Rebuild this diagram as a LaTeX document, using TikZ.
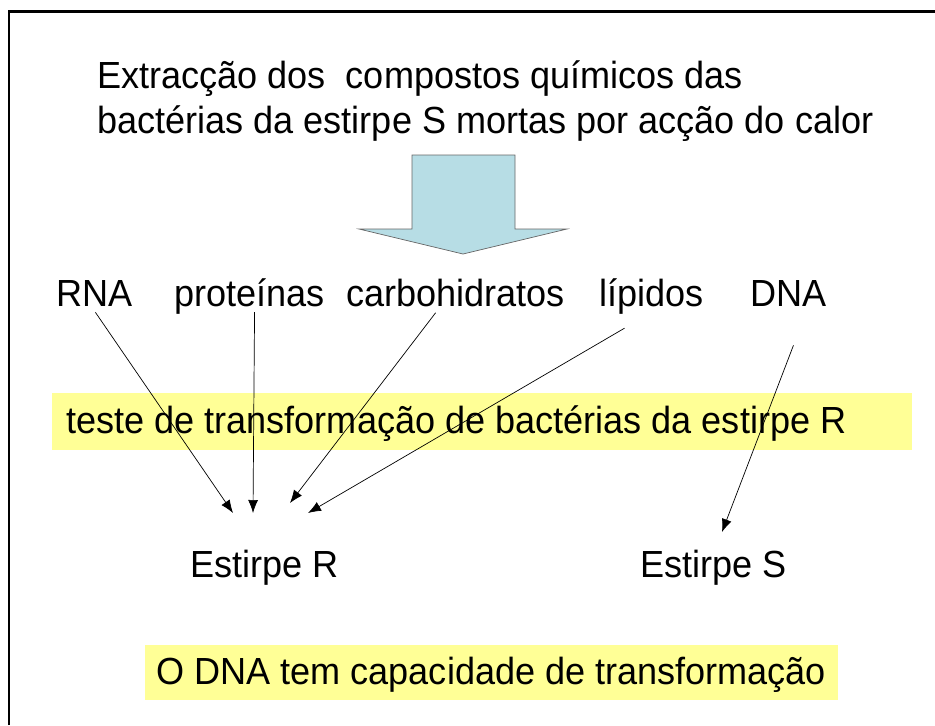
\documentclass[tikz,border=0pt]{standalone}
\usepackage{fontspec}
\setmainfont[FakeStretch=0.955]{Liberation Sans}
\usetikzlibrary{arrows.meta,calc}

\definecolor{arrowblue}{RGB}{183,221,229}
\definecolor{markyellow}{RGB}{255,255,150}

\tikzset{
  txt/.style={anchor=base west, inner sep=0pt, font=\fontsize{21.5pt}{25pt}\selectfont},
  link/.style={-{Latex[length=2.6mm,width=2mm]}, thin, black}
}

\begin{document}
\begin{tikzpicture}[x=0.02cm, y=-0.02cm]
  \useasboundingbox (0,0) rectangle (935,725);
  % frame (only top and left edge visible)
  \draw[line width=1.7pt] (9,725) -- (9,11) -- (935,11);

  % title
  \node[txt] (title1) at (97,88) {Extracção dos~ compostos químicos das};
  \node[txt] (title2) at (97,133) {bactérias da estirpe S mortas por acção do calor};

  % block arrow
  \filldraw[fill=arrowblue, draw=black!60, thin]
    (412,155) -- (515,155) -- (515,229) -- (567,229) -- (463,254)
    -- (359,229) -- (412,229) -- cycle;

  % compounds
  \node[txt] (rna)  at (56,306)  {RNA};
  \node[txt] (prot) at (174,306) {proteínas};
  \node[txt] (carb) at (346,306) {carbohidratos};
  \node[txt] (lip)  at (599,306) {lípidos};
  \node[txt] (dna)  at (750,306) {DNA};

  % highlighted test
  \fill[markyellow] (52,393) rectangle (912,450);
  \node[txt] (test) at (66,433) {teste de transformação de bactérias da estirpe R};

  % results
  \node[txt] (estR) at (190,577) {Estirpe R};
  \node[txt] (estS) at (640,577) {Estirpe S};
  \coordinate (inA) at (233,513);
  \coordinate (inB) at (253,513);
  \coordinate (inC) at (290,503);
  \coordinate (inD) at (308,513);
  \coordinate (inE) at (722,532);

  \draw[link] ($(rna.south)+(1,6)$) -- (inA);
  \draw[link] ($(prot.south)+(5,-2)$) -- (inB);
  \draw[link] ($(carb.south)+(-20,6)$) -- (inC);
  \draw[link] ($(lip.south)+(-27,14)$) -- (inD);
  \draw[link] ($(dna.south)+(5,39)$) -- (inE);

  % conclusion
  \fill[markyellow] (145,645) rectangle (838,700);
  \node[txt] (concl) at (156,684) {O DNA tem capacidade de transformação};
\end{tikzpicture}
\end{document}
